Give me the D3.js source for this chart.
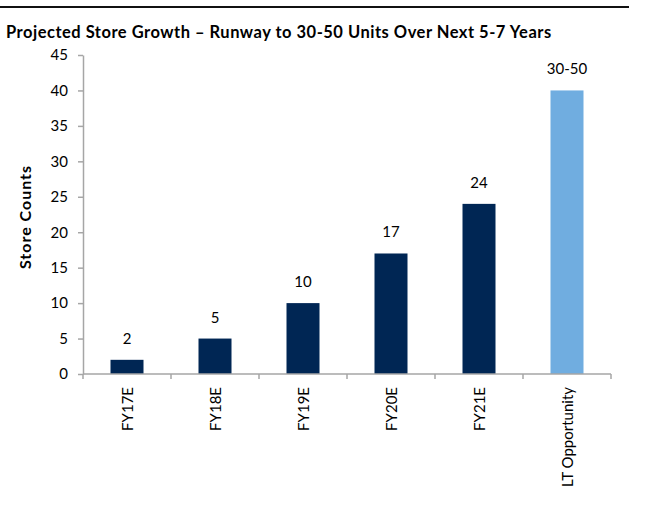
<!DOCTYPE html>
<html>
<head>
<meta charset="utf-8">
<script src="https://cdn.jsdelivr.net/npm/d3@7"></script>
<style>
  html, body { margin: 0; padding: 0; background: #fff; }
  svg text { font-family: Lato, "Open Sans", sans-serif; }
</style>
</head>
<body>
<svg id="chart" width="650" height="522"></svg>
<script>
const categories = ["FY17E", "FY18E", "FY19E", "FY20E", "FY21E", "LT Opportunity"];
const values = [2, 5, 10, 17, 24, 40];
const valueLabels = ["2", "5", "10", "17", "24", "30-50"];
const yTicks = [0, 5, 10, 15, 20, 25, 30, 35, 40, 45];
const title = "Projected Store Growth \u2013 Runway to 30-50 Units Over Next 5-7 Years";
const yTitle = "Store Counts";

const svg = d3.select("#chart");
const navy = "#002654", light = "#70ADE0", axisGray = "#A6A6A6";

// top rule
svg.append("line").attr("x1", 0).attr("x2", 629).attr("y1", 7).attr("y2", 7)
  .attr("stroke", "#111").attr("stroke-width", 2);

svg.append("text").attr("x", 6).attr("y", 38).text(title)
  .attr("font-size", 16.5).attr("font-weight", "bold").attr("fill", "#000")
  .attr("letter-spacing", 0.5);

const y = d3.scaleLinear().domain([0, 45]).range([374, 55]);
const x = d3.scaleBand().domain(categories).range([83, 611])
  .paddingInner(0.625).paddingOuter(0.3125);

// y axis
const yAxis = svg.append("g").attr("transform", "translate(83,0)")
  .call(d3.axisLeft(y).tickValues(yTicks).tickSize(5).tickPadding(10).tickSizeOuter(0));
yAxis.select(".domain").attr("stroke", axisGray).attr("stroke-width", 1.5);
yAxis.selectAll(".tick line").attr("stroke", axisGray).attr("stroke-width", 1.5);
yAxis.selectAll(".tick text").attr("font-size", 15).attr("fill", "#000")
  .style("font-family", "Lato, 'Open Sans', sans-serif");

// bars
svg.append("g").selectAll("rect").data(categories).join("rect")
  .attr("x", d => x(d))
  .attr("width", x.bandwidth())
  .attr("y", (d, i) => y(values[i]))
  .attr("height", (d, i) => y(0) - y(values[i]))
  .attr("fill", (d, i) => i === categories.length - 1 ? light : navy);

// x axis with boundary ticks
const step = x.step();
const bounds = d3.range(categories.length + 1).map(i => 83 + i * step);
const xg = svg.append("g");
xg.append("line").attr("x1", 83).attr("x2", bounds[bounds.length - 1])
  .attr("y1", y(0)).attr("y2", y(0)).attr("stroke", axisGray).attr("stroke-width", 1.5);
xg.selectAll("line.tk").data(bounds).join("line").attr("class", "tk")
  .attr("x1", d => d).attr("x2", d => d).attr("y1", y(0)).attr("y2", y(0) + 5)
  .attr("stroke", axisGray).attr("stroke-width", 1.5);

// x labels rotated
xg.selectAll("text.xl").data(categories).join("text").attr("class", "xl")
  .attr("transform", d => `translate(${x(d) + x.bandwidth() / 2 + 6},387) rotate(-90)`)
  .attr("text-anchor", "end")
  .attr("font-size", 15).attr("fill", "#000")
  .text(d => d);

// value labels
svg.append("g").selectAll("text").data(categories).join("text")
  .attr("x", d => x(d) + x.bandwidth() / 2)
  .attr("y", (d, i) => y(values[i]) - 16)
  .attr("text-anchor", "middle")
  .attr("font-size", 15).attr("fill", "#000")
  .text((d, i) => valueLabels[i]);

// y title
svg.append("text")
  .attr("transform", "translate(31,217) rotate(-90)")
  .attr("text-anchor", "middle")
  .attr("font-size", 16).attr("font-weight", "bold").attr("fill", "#000")
  .attr("letter-spacing", 1)
  .text(yTitle);
</script>
</body>
</html>
